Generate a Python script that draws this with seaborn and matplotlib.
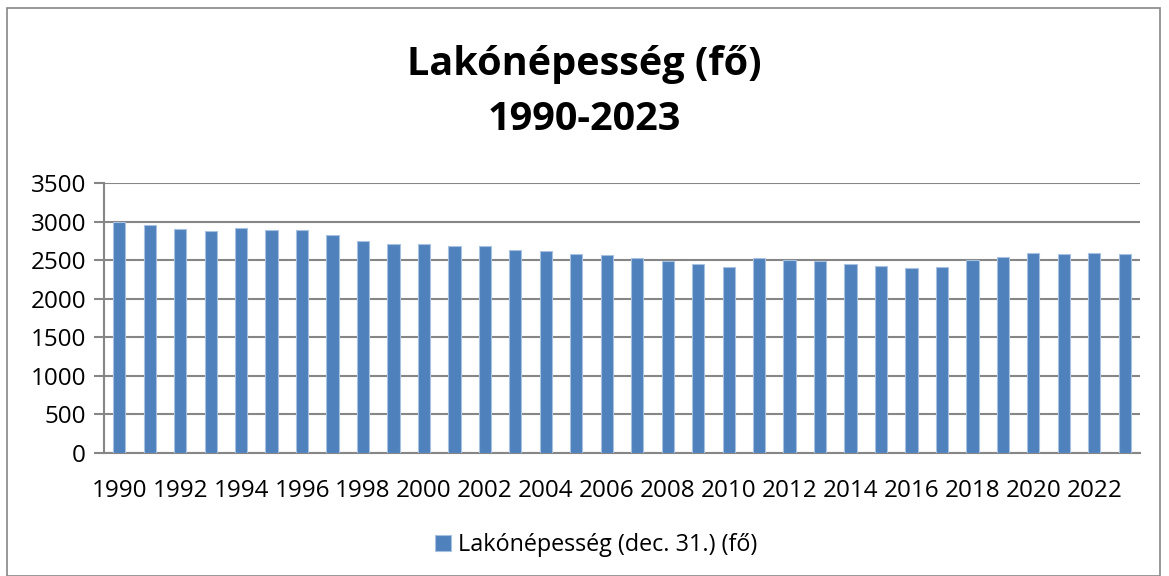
import matplotlib.pyplot as plt
from matplotlib.patches import Rectangle
import seaborn as sns
import pandas as pd
import numpy as np

years = list(range(1990, 2024))
population = [3000, 2952, 2900, 2874, 2918, 2892, 2887, 2822, 2748, 2713,
              2705, 2679, 2685, 2629, 2616, 2582, 2569, 2530, 2483, 2444,
              2410, 2530, 2504, 2483, 2448, 2422, 2392, 2414, 2504, 2543,
              2595, 2578, 2599, 2578]
series_name = 'Lakónépesség (dec. 31.) (fő)'

df = pd.DataFrame({'year': [str(y) for y in years], 'pop': population})

sns.set_style('white')
plt.rcParams['font.family'] = ['Open Sans', 'DejaVu Sans']
plt.rcParams['text.color'] = 'black'
plt.rcParams['xtick.labelcolor'] = 'black'
plt.rcParams['ytick.labelcolor'] = 'black'

fig = plt.figure(figsize=(11.69, 5.76), dpi=100)
ax = fig.add_axes([104 / 1169, 1 - 453 / 576, (1140 - 104) / 1169, 270 / 576])

blue = '#4F81BD'
sns.barplot(data=df, x='year', y='pop', color=blue, width=0.4,
            edgecolor='#a9c1e0', linewidth=0.8, saturation=1, ax=ax,
            label=series_name, zorder=3)

ax.set_ylim(0, 3500)
ax.set_yticks(np.arange(0, 3501, 500))
ax.set_xlim(-0.5, len(years) - 0.5)
ax.set_xlabel('')
ax.set_ylabel('')

grid_c = '#868686'
ax.yaxis.grid(True, color=grid_c, linewidth=1.5, zorder=0)
sns.despine(ax=ax, top=True, right=True)
for s in ['left', 'bottom']:
    ax.spines[s].set_color(grid_c)
    ax.spines[s].set_linewidth(1.5)

ax.set_xticks(range(0, len(years), 2))
ax.set_xticklabels([str(y) for y in years[::2]])
ax.set_xticks(np.arange(-0.5, len(years), 1), minor=True)
ax.tick_params(axis='x', which='major', length=0, labelsize=17.5, pad=19)
ax.tick_params(axis='x', which='minor', length=7, width=1.5, color=grid_c, direction='out')
ax.tick_params(axis='y', length=7, width=1.5, color=grid_c, direction='out', labelsize=17.5, pad=6)
ax.tick_params(bottom=True, left=True)

fig.text(0.5, 1 - 75 / 576, 'Lakónépesség (fő)', ha='center', va='baseline',
         fontsize=28.5, fontweight='bold')
fig.text(0.5, 1 - 130 / 576, '1990-2023', ha='center', va='baseline',
         fontsize=28.5, fontweight='bold')

leg = ax.legend(loc='center', bbox_to_anchor=(0.51, 1 - 545 / 576),
                bbox_transform=fig.transFigure, frameon=False, fontsize=16.8,
                handlelength=0.65, handleheight=0.65, handletextpad=0.3)

fig.patches.append(Rectangle((7 / 1169, 0), 1153 / 1169, 1 - 8 / 576,
                             transform=fig.transFigure, fill=False,
                             edgecolor='#868686', linewidth=1.2))

fig.savefig('out.png', dpi=100)
